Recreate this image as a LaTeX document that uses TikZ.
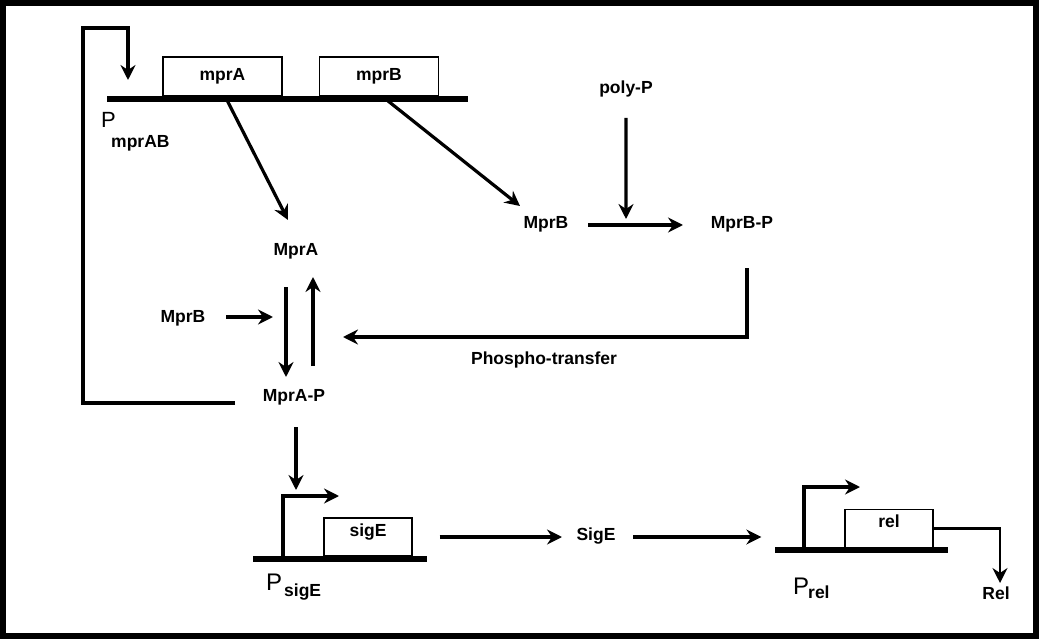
\documentclass[tikz,border=0pt]{standalone}
\usepackage{fontspec}
\setmainfont{Liberation Sans}
\usetikzlibrary{arrows.meta}

\tikzset{
	lbl/.style = {font=\bfseries\fontsize{17.5}{20}\selectfont, inner sep=0pt, text height=12.5pt, text depth=0pt},
	gene/.style = {lbl, draw, line width=1.3pt, minimum width=88pt, minimum height=38pt, text depth=14pt},
	promlbl/.style = {font=\fontsize{24}{26}\selectfont, inner sep=0pt, anchor=base west},
	sublbl/.style = {font=\bfseries\fontsize{17.5}{20}\selectfont, inner sep=0pt, anchor=base west},
	arr/.style = {-{Stealth[length=15pt,width=15pt,inset=5pt]}, line width=3.2pt},
	dna/.style = {line width=6pt},
}

\begin{document}
\begin{tikzpicture}[x=1pt,y=-1pt]
		\useasboundingbox (0,0) rectangle (1039,639);
		\draw[line width=6pt] (2.5,3.5) rectangle (1036,635.5);
		\draw[dna] (107,99) -- (468,99);
		\draw[dna] (253,559) -- (427,559);
		\draw[dna] (775,550) -- (948,550);
		\coordinate (tssAB) at (128,99);
		\coordinate (looptop) at (83,28);
		\coordinate (tssE) at (283,559);
		\coordinate (tssR) at (804,550);
		\node[gene, minimum width=119pt, minimum height=39pt, text depth=5pt] (gA) at (222.5,76.5) {mprA};
		\node[gene, minimum width=119pt, minimum height=39pt, text depth=5pt] (gB) at (379,76.5) {mprB};
		\node[gene] (gE) at (368,537) {sigE};
		\node[gene] (gR) at (889,528.5) {rel};
		\node[promlbl, font=\fontsize{22}{24}\selectfont] (pAB) at (101,128) {P};
		\node[sublbl] (pABsub) at (111,148) {mprAB};
		\node[promlbl] (pE) at (266,590) {P};
		\node[sublbl] (pEsub) at (284,596) {sigE};
		\node[promlbl] (pR) at (793,594) {P};
		\node[sublbl] (pRsub) at (808,598) {rel};
		\node[lbl] (mpra) at (296,249) {MprA};
		\node[lbl] (mprap) at (294,395) {MprA-P};
		\node[lbl] (mprbl) at (183,316) {MprB};
		\node[lbl] (mprb) at (546,222) {MprB};
		\node[lbl] (mprbp) at (742,222) {MprB-P};
		\node[lbl] (polyp) at (626,87) {poly-P};
		\node[lbl] (phos) at (544,358) {Phospho-transfer};
		\node[lbl] (sige) at (596,534) {SigE};
		\node[lbl] (relp) at (996,593) {Rel};
		\draw[arr] ([xshift=4.5pt,yshift=-3.5pt]gA.south) -- ([xshift=-8pt,yshift=29pt]mpra.center);
		\draw[arr] ([xshift=8pt,yshift=-3.5pt]gB.south) -- ([xshift=-26pt,yshift=16pt]mprb.center);
		\draw[arr] ([xshift=42pt,yshift=-3pt]mprb.center) -- coordinate[pos=0.4] (hit) ([xshift=-59pt,yshift=-3pt]mprbp.center);
		\draw[arr] ([yshift=-31pt]polyp.center) -- ([yshift=6pt]hit);
		\draw[arr] ([xshift=5pt,yshift=-46pt]mprbp.center) |- ([xshift=49pt,yshift=58pt]mprap.center);
		\draw[arr] ([xshift=43pt,yshift=-1pt]mprbl.center) -- ([xshift=90pt,yshift=-1pt]mprbl.center);
		\draw[arr] ([xshift=-10pt,yshift=-38pt]mpra.center) -- ([xshift=-8pt,yshift=18pt]mprap.center);
		\draw[arr] ([xshift=19pt,yshift=29pt]mprap.center) -- ([xshift=17pt,yshift=-28pt]mpra.center);
		\draw[arr] ([xshift=-59pt,yshift=-8pt]mprap.center) -| (looptop) -| ([yshift=19pt]tssAB);
		\draw[arr] ([xshift=2pt,yshift=-32pt]mprap.center) -- ([xshift=13pt,yshift=69pt]tssE);
		\draw[arr] (tssE) -- ++(0,-63) -- ++(56,0);
		\draw[arr] ([xshift=27pt]gE.east) -- ([xshift=-34pt,yshift=-3pt]sige.center);
		\draw[arr] ([xshift=37pt,yshift=-3pt]sige.center) -- ([xshift=-83pt,yshift=-8.5pt]gR.west);
		\draw[arr] (tssR) -- ++(0,-63) -- ++(56,0);
		\draw[arr, line width=2.3pt] (gR.east) -| ([xshift=4pt,yshift=10pt]relp.center);
	\end{tikzpicture}
\end{document}
